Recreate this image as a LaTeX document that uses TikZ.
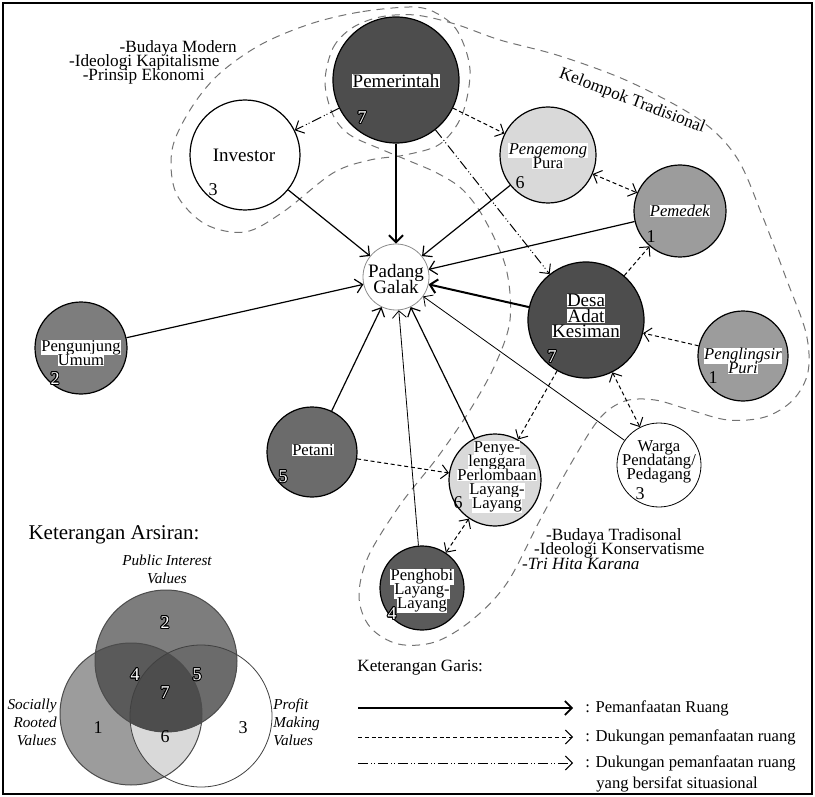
\documentclass[tikz,border=0pt]{standalone}
\usepackage{fontspec}
\setmainfont{Liberation Serif}
\usepackage{contour}
\contourlength{0.45pt}
\usetikzlibrary{arrows.meta,positioning}

\definecolor{nilai1}{HTML}{9C9C9C}
\definecolor{nilai2}{HTML}{7D7D7D}
\definecolor{nilai4}{HTML}{5A5A5A}
\definecolor{nilai5}{HTML}{6B6B6B}
\definecolor{nilai6}{HTML}{D9D9D9}
\definecolor{nilai7}{HTML}{4D4D4D}

\newcommand{\fnode}{\fontsize{8.3pt}{7pt}\selectfont\lineskiplimit=-20pt\relax}
\newcommand{\fbig}{\fontsize{9.5pt}{7.8pt}\selectfont\lineskiplimit=-20pt\relax}
\newcommand{\fnum}{\fontsize{9pt}{9pt}\selectfont}
\newcommand{\fket}{\fontsize{8.6pt}{9pt}\selectfont}
\newcommand{\fleg}{\fontsize{8.3pt}{9pt}\selectfont}
\newcommand{\fven}{\fontsize{7.6pt}{8.5pt}\selectfont}
\newcommand{\ftitle}{\fontsize{10.5pt}{11pt}\selectfont}
\newcommand{\wbox}[1]{{\setlength{\fboxsep}{0.2pt}\colorbox{white}{#1}}}
\newcommand{\wnum}[1]{\textcolor{white}{\contour{black}{#1}}}

\begin{document}
\begin{tikzpicture}[x=0.5pt, y=-0.5pt,
    actor/.style={circle, draw, line width=0.6pt, minimum size=#1, inner sep=0pt},
    nm/.style={font=\fnode, align=center, inner sep=0pt},
    nmbig/.style={font=\fbig, align=center, inner sep=0pt},
    num/.style={font=\fnum, inner sep=0pt},
    ket/.style={font=\fket, inner sep=0pt},
    use/.style={->, line width=0.6pt},
    dukung/.style={->, line width=0.5pt, dash pattern=on 2pt off 1.4pt},
    situasi/.style={->, line width=0.5pt, dash pattern=on 5pt off 1.5pt on 0.5pt off 1pt on 0.5pt off 1.5pt},
    grup/.style={draw=black!55, line width=0.5pt, dash pattern=on 4pt off 3pt},
    >={Straight Barb[length=3.5pt,width=7pt]}]

    \useasboundingbox (0,0) rectangle (815,797);
    \draw[line width=0.8pt] (3,3) rectangle (812,794);

    % kelompok (garis putus-putus)
    \draw[grup] plot[smooth cycle, tension=0.55] coordinates {
        (413,7) (360,12) (310,24) (260,45) (218,75) (190,110) (172,150) (176,193)
        (205,224) (245,232) (283,212) (333,173) (370,160) (405,155) (440,144)
        (462,115) (470,70) (458,32) (438,14)};
    \draw[grup] plot[smooth cycle, tension=0.55] coordinates {
        (325,82) (333,48) (352,28) (380,17) (415,15) (455,24) (500,40) (560,56)
        (630,82) (700,120) (737,158) (762,215) (786,278) (806,333) (808,372)
        (793,400) (765,417) (728,420) (690,410) (655,400) (625,401) (600,418)
        (573,460) (540,520) (507,583) (472,620) (435,642) (398,644) (370,627)
        (359,597) (368,557) (400,505) (437,458) (470,410) (495,365) (510,320)
        (506,268) (485,220) (463,190) (437,173) (407,160) (383,150) (350,135)
        (333,115)};

    % aktor
    \node[actor=63pt, fill=nilai7] (pem) at (396,80) {};
    \node[actor=55pt, fill=white] (inv) at (245,155) {};
    \node[actor=48pt, fill=nilai6] (pgm) at (548,155) {};
    \node[actor=46pt, fill=nilai1] (pmd) at (680,211) {};
    \node[actor=33pt, draw=black!45, line width=0.4pt, fill=white] (pg) at (396,277) {};
    \node[actor=58pt, fill=nilai7] (desa) at (586,320) {};
    \node[actor=45pt, fill=nilai1] (puri) at (743,356) {};
    \node[actor=42pt, fill=white, line width=0.4pt] (warga) at (659,465) {};
    \node[actor=46pt, fill=nilai6] (lomba) at (495,480) {};
    \node[actor=42pt, fill=nilai4] (hobi) at (422,588) {};
    \node[actor=45pt, fill=nilai5] (petani) at (312,452) {};
    \node[actor=46pt, fill=nilai2] (umum) at (81,348) {};

    \node[nmbig] (pem-t) at (396,81) {\wbox{Pemerintah}};
    \node[nmbig] (inv-t) at (244,155) {Investor};
    \node[nm] (pgm-t) at (548,156) {\wbox{\textit{Pengemong}}\\\wbox{Pura}};
    \node[nm] (pmd-t) at (680,211) {\wbox{\textit{Pemedek}}};
    \node[nmbig] (pg-t) at (396,279) {Padang\\Galak};
    \node[nmbig] (desa-t) at (586,316) {\wbox{Desa}\\\wbox{Adat}\\\wbox{Kesiman}};
    \node[nm] (puri-t) at (743,361) {\wbox{\textit{Penglingsir}}\\\wbox{\textit{Puri}}};
    \node[nm] (warga-t) at (659,462) {Warga\\Pendatang/\\Pedagang};
    \node[nm] (lomba-t) at (497,477) {\wbox{Penye-}\\\wbox{lenggara}\\\wbox{Perlombaan}\\\wbox{Layang-}\\\wbox{Layang}};
    \node[nm] (hobi-t) at (422,591) {\wbox{Penghobi}\\\wbox{Layang-}\\\wbox{Layang}};
    \node[nm] (petani-t) at (313,450) {\wbox{Petani}};
    \node[nm] (umum-t) at (81,353) {\wbox{Pengunjung}\\\wbox{Umum}};

    \node[num] (pem-n) at (362,118) {\wnum{7}};
    \node[num] (inv-n) at (213,190) {3};
    \node[num] (pgm-n) at (520,183) {6};
    \node[num] (pmd-n) at (651,237) {1};
    \node[num] (desa-n) at (552,357) {\wnum{7}};
    \node[num] (puri-n) at (713,378) {1};
    \node[num] (warga-n) at (640,494) {3};
    \node[num] (lomba-n) at (458,503) {6};
    \node[num] (hobi-n) at (392,614) {\wnum{4}};
    \node[num] (petani-n) at (283,477) {\wnum{5}};
    \node[num] (umum-n) at (55,379) {\wnum{2}};

    % pemanfaatan ruang
    \draw[use] (inv) -- (pg);
    \draw[use, line width=1pt] (pem) -- (pg);
    \draw[use] (pgm) -- (pg);
    \draw[use] (pmd) -- (pg);
    \draw[use] (umum) -- (pg);
    \draw[use, line width=1pt] (desa) -- (pg);
    \draw[use] (petani) -- (pg);
    \draw[use, line width=0.4pt] (hobi) -- (pg);
    \draw[use] (lomba) -- (pg);
    \draw[use, line width=0.4pt] (warga) -- (pg);

    % dukungan
    \draw[dukung] (pem) -- (pgm);
    \draw[dukung, <->] (pgm) -- (pmd);
    \draw[dukung] (desa) -- (pmd);
    \draw[dukung] (puri) -- (desa);
    \draw[dukung, <->] (desa) -- (warga);
    \draw[dukung] (desa) -- (lomba);
    \draw[dukung] (petani) -- (lomba);
    \draw[dukung, <->] (lomba) -- (hobi);
    \draw[situasi] (pem) -- (inv);
    \draw[situasi] (pem) -- (desa);

    \node[ket, anchor=east] (mod1) at (237,48) {-Budaya Modern};
    \node[ket, anchor=east] (mod2) at (220,62) {-Ideologi Kapitalisme};
    \node[ket, anchor=east] (mod3) at (205,76) {-Prinsip Ekonomi};
    \node[ket, rotate=-21] (trad) at (632,101) {Kelompok Tradisional};
    \node[ket, anchor=east] (trd1) at (682,536) {-Budaya Tradisonal};
    \node[ket, anchor=east] (trd2) at (705,550) {-Ideologi Konservatisme};
    \node[ket, anchor=east] (trd3) at (640,564) {-\textit{Tri Hita Karana}};

    % keterangan arsiran
    \node[font=\ftitle, inner sep=0pt] (arsir) at (114,535) {Keterangan Arsiran:};
    \node[font=\fven\itshape, align=center, inner sep=0pt] (vpub) at (167,569) {Public Interest\\[0.5pt]Values};
    \node[font=\fven\itshape, align=right, inner sep=0pt, anchor=east] (vsoc) at (57,722) {Socially\\[0.5pt]Rooted\\[0.5pt]Values};
    \node[font=\fven\itshape, align=left, inner sep=0pt, anchor=west] (vpro) at (273,722) {Profit\\[0.5pt]Making\\[0.5pt]Values};

    \coordinate (vtop) at (166,661);
    \coordinate (vleft) at (131,714);
    \coordinate (vright) at (201,716);
    \fill[nilai1] (vleft) circle[radius=71];
    \begin{scope}
        \clip (vleft) circle[radius=71];
        \fill[nilai6] (vright) circle[radius=71];
    \end{scope}
    \fill[nilai2] (vtop) circle[radius=71];
    \begin{scope}
        \clip (vtop) circle[radius=71];
        \fill[nilai4] (vleft) circle[radius=71];
        \fill[nilai5] (vright) circle[radius=71];
        \clip (vleft) circle[radius=71];
        \fill[nilai7] (vright) circle[radius=71];
    \end{scope}
    \draw[black!70, line width=0.5pt] (vleft) circle[radius=71] (vtop) circle[radius=71];
    \draw[black!75, line width=0.4pt] (vright) circle[radius=71];

    \node[num] (v2) at (165,623) {\wnum{2}};
    \node[num] (v4) at (135,675) {\wnum{4}};
    \node[num] (v5) at (197,675) {\wnum{5}};
    \node[num] (v7) at (165,693) {\wnum{7}};
    \node[num] (v1) at (98,728) {1};
    \node[num] (v6) at (165,737) {6};
    \node[num] (v3) at (243,728) {3};

    % keterangan garis
    \node[ket, anchor=west] (garis) at (357,668) {Keterangan Garis:};
    \coordinate (g1a) at (358,708);
    \coordinate (g1b) at (573,708);
    \coordinate (g2a) at (358,737);
    \coordinate (g2b) at (573,737);
    \coordinate (g3a) at (358,763);
    \coordinate (g3b) at (573,763);
    \draw[use, line width=0.8pt] (g1a) -- (g1b);
    \draw[dukung] (g2a) -- (g2b);
    \draw[situasi] (g3a) -- (g3b);
    \node[font=\fleg, inner sep=0pt, anchor=west] (g1t) at (585,708) {: Pemanfaatan Ruang};
    \node[font=\fleg, inner sep=0pt, anchor=west] (g2t) at (585,737) {: Dukungan pemanfaatan ruang};
    \node[font=\fleg, inner sep=0pt, anchor=west] (g3t) at (585,763) {: Dukungan pemanfaatan ruang};
    \node[font=\fleg, inner sep=0pt, anchor=west] (g3u) at (596,784) {yang bersifat situasional};
\end{tikzpicture}
\end{document}
